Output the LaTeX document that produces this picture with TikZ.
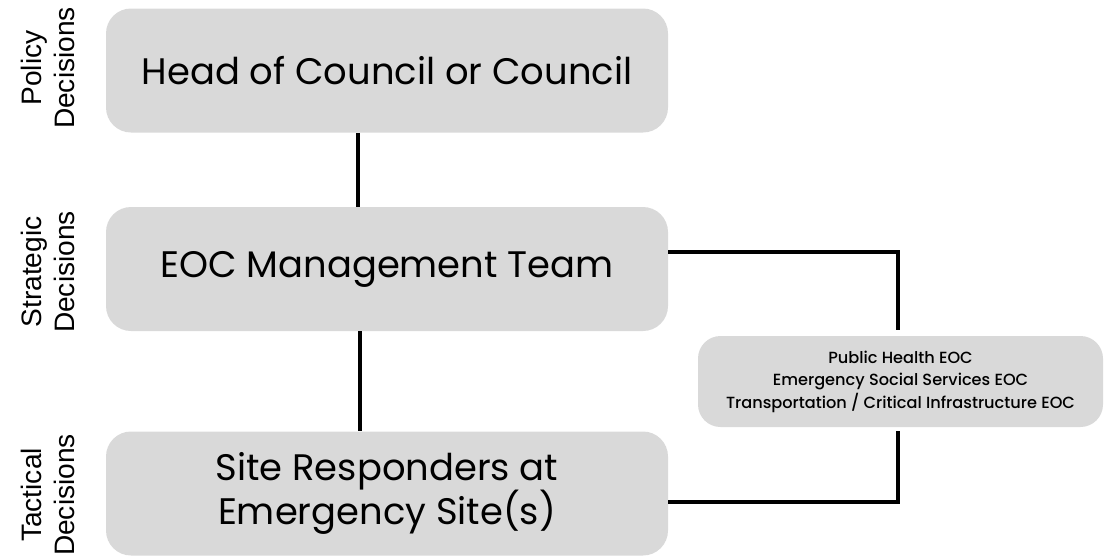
\documentclass[tikz,border=0pt]{standalone}
\usepackage{fontspec}
\setmainfont{Poppins}
\newfontfamily\eocfont{Poppins Medium}
\newfontfamily\sidefont{Liberation Sans}
\usetikzlibrary{positioning}
\definecolor{boxgray}{HTML}{D9D9D9}
\tikzset{
  level box/.style={
    fill=boxgray,
    rounded corners=0.5cm,
    minimum width=11.24cm,
    minimum height=2.48cm,
    align=center,
    font=\fontsize{21}{25.5}\selectfont
  },
  eoc box/.style={
    fill=boxgray,
    rounded corners=0.45cm,
    minimum width=8.1cm,
    minimum height=1.82cm,
    align=center,
    font=\eocfont\fontsize{9.2}{12.8}\selectfont
  },
  link/.style={
    line width=2.8pt
  },
  side label/.style={
    rotate=90,
    align=center,
    font=\sidefont\fontsize{16}{19}\selectfont
  }
}

\begin{document}
\begin{tikzpicture}
  \useasboundingbox (0,0) rectangle (22.1,-11.16);

  % ==== 三级决策框 ====
  \node[level box] (head) at (7.74,-1.41) {Head of Council or Council};
  \node[level box] (team) at (7.74,-5.38) {EOC Management Team};
  \node[level box] (site) at (7.74,-9.87) {Site Responders at\\Emergency Site(s)};

  % ==== 右侧各部门 EOC ====
  \node[eoc box] (eoc) at (18.01,-7.63)
    {Public Health EOC\\Emergency Social Services EOC\\Transportation / Critical Infrastructure EOC};

  % ==== 左侧决策层级标签 ====
  \node[side label] (policy) at (0.96,-1.36) {Policy\\Decisions};
  \node[side label] (strategic) at (0.96,-5.44) {Strategic\\Decisions};
  \node[side label] (tactical) at (0.96,-9.9) {Tactical\\Decisions};

  % ==== 连线 ====
  \draw[link] ([xshift=-0.58cm]head.south) -- ([xshift=-0.58cm]team.north);
  \draw[link] ([xshift=-0.54cm]team.south) -- ([xshift=-0.54cm]site.north);
  % 与右侧框之间留小空隙
  \draw[link, shorten >=0.12cm] ([yshift=0.34cm]team.east) -| ([xshift=-0.05cm]eoc.north);
  \draw[link, shorten <=0.08cm] ([xshift=-0.05cm]eoc.south) |- ([yshift=-0.17cm]site.east);

\end{tikzpicture}
\end{document}
